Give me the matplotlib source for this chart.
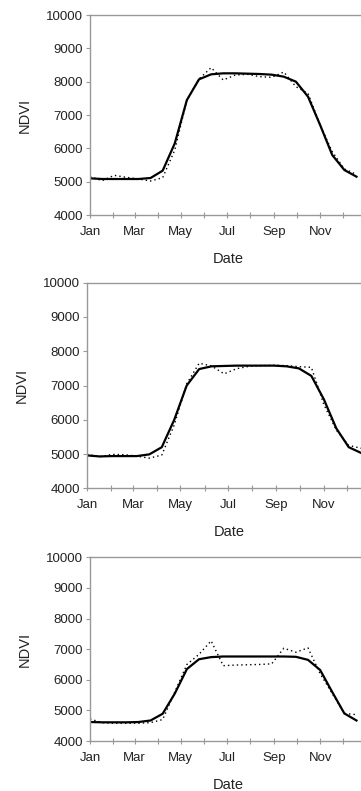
import numpy as np
import matplotlib
matplotlib.use('Agg')
import matplotlib.pyplot as plt

plt.rcParams['font.family'] = ['Liberation Sans', 'DejaVu Sans']

# 16-day composite dates (day of year)
doy = [1, 17, 33, 49, 65, 81, 97, 113, 129, 145, 161, 177,
       193, 209, 225, 241, 257, 273, 289, 305, 321, 337, 353]

# panel 1
raw_1 = [5150, 5030, 5190, 5130, 5080, 5020, 5120, 5950, 7450, 8080, 8420, 8050,
         8200, 8220, 8150, 8130, 8290, 7850, 7650, 6700, 5900, 5380, 5220]
fit_1 = [5100, 5080, 5080, 5080, 5080, 5110, 5330, 6150, 7450, 8070, 8220, 8250,
         8250, 8240, 8230, 8210, 8150, 8000, 7550, 6700, 5800, 5350, 5150]

# panel 2
raw_2 = [4990, 4920, 4990, 4980, 4940, 4880, 4970, 5850, 7050, 7650, 7570, 7340,
         7490, 7560, 7580, 7590, 7580, 7550, 7530, 6450, 5700, 5250, 5170]
fit_2 = [4960, 4930, 4940, 4940, 4940, 4990, 5200, 6000, 7000, 7480, 7560, 7570,
         7580, 7580, 7580, 7580, 7560, 7500, 7280, 6600, 5750, 5200, 5030]

# panel 3
raw_3 = [4720, 4600, 4580, 4580, 4580, 4600, 4700, 5600, 6500, 6830, 7270, 6460,
         6480, 6490, 6500, 6520, 7030, 6900, 7040, 6200, 5550, 4900, 4860]
fit_3 = [4620, 4610, 4610, 4610, 4620, 4670, 4890, 5550, 6350, 6670, 6740, 6760,
         6760, 6760, 6760, 6760, 6760, 6750, 6650, 6320, 5600, 4900, 4670]

month_starts = [1, 32, 60, 91, 121, 152, 182, 213, 244, 274, 305, 335]
month_labels = ['Jan', '', 'Mar', '', 'May', '', 'Jul', '', 'Sep', '', 'Nov', '']
yticks = [4000, 5000, 6000, 7000, 8000, 9000, 10000]

W, H = 361, 791
fig = plt.figure(figsize=(W / 100, H / 100), dpi=100)

# axes boxes in pixels: left, top, bottom, px per day
boxes = [(90, 15, 215, 0.757), (87, 282.7, 488.3, 0.779), (90, 557.3, 741, 0.757)]
series = [(raw_1, fit_1), (raw_2, fit_2), (raw_3, fit_3)]

spine_col = '#999999'
text_col = '#222222'

for (left, top, bottom, ppd), (raw, fit) in zip(boxes, series):
    ax = fig.add_axes([left / W, 1 - bottom / H, 365 * ppd / W, (bottom - top) / H])
    ax.plot(doy, raw, color='black', lw=1.0, linestyle=(0, (1, 2.2)))
    ax.plot(doy, fit, color='black', lw=1.6)
    ax.set_xlim(1, 366)
    ax.set_ylim(4000, 10000)
    ax.set_yticks(yticks)
    ax.set_xticks(month_starts)
    ax.set_xticklabels(month_labels)
    for s in ['left', 'top', 'bottom', 'right']:
        ax.spines[s].set_color(spine_col)
        ax.spines[s].set_linewidth(1.0)
    ax.tick_params(axis='y', direction='out', length=3, width=0.8, color=spine_col,
                   labelsize=9.5, labelcolor=text_col, pad=2)
    ax.tick_params(axis='x', direction='inout', length=4, width=0.8, color=spine_col,
                   labelsize=9.5, labelcolor=text_col, pad=6)
    ax.set_xlabel('Date', fontsize=10.5, color=text_col, labelpad=10)
    ax.set_ylabel('NDVI', fontsize=10.5, color=text_col, labelpad=10)

fig.savefig('out.png', dpi=100)
